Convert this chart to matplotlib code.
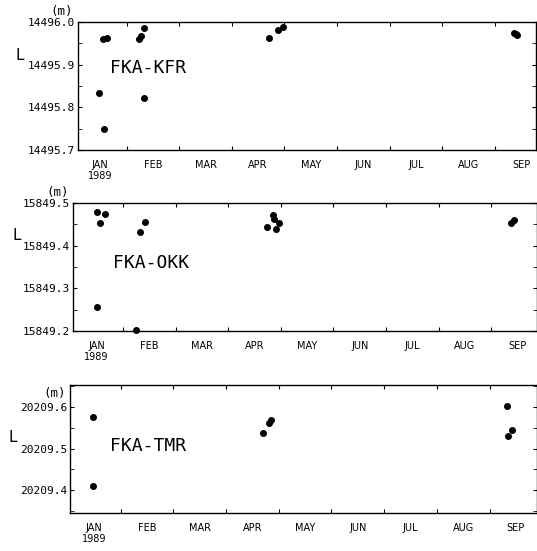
import matplotlib
matplotlib.use('Agg')
import matplotlib.pyplot as plt
import numpy as np

# x in month units: 0 = 1 Jan 1989, 1 = 1 Feb, ...
months = ['JAN\n1989', 'FEB', 'MAR', 'APR', 'MAY', 'JUN', 'JUL', 'AUG', 'SEP']

# FKA-KFR
kfr_t = [0.48, 0.57, 0.56, 0.62, 1.24, 1.27, 1.33, 1.33, 3.71, 3.88, 3.97, 8.37, 8.42, 8.40]
kfr_L = [14495.833, 14495.750, 14495.959, 14495.963, 14495.959, 14495.967, 14495.986,
         14495.822, 14495.963, 14495.981, 14495.989, 14495.975, 14495.970, 14495.972]

# FKA-OKK
okk_t = [0.51, 0.65, 0.57, 0.51, 1.33, 1.41, 1.24, 3.74, 3.85, 3.88, 3.97, 3.90, 8.37, 8.44]
okk_L = [15849.479, 15849.475, 15849.452, 15849.256, 15849.432, 15849.456, 15849.203,
         15849.444, 15849.471, 15849.463, 15849.452, 15849.438, 15849.452, 15849.461]

# FKA-TMR
tmr_t = [0.48, 0.48, 3.70, 3.81, 3.85, 8.33, 8.42, 8.35]
tmr_L = [20209.575, 20209.411, 20209.537, 20209.560, 20209.568, 20209.602, 20209.545, 20209.529]

W, H = 537, 551
fig = plt.figure(figsize=(W / 100, H / 100), dpi=100)

# рамки панелей в пикселях (left, right, top, bottom) и положения подписей
panels = [
    dict(px=(78, 536, 22, 150), xlim=(0.076, 8.78), ylim=(14495.7, 14496.0),
         yt=[14495.7, 14495.8, 14495.9, 14496.0], t=kfr_t, L=kfr_L, name='FKA-KFR',
         m=(62, 12), lab=(20, 55), nm=(110, 68)),
    dict(px=(73, 537, 203, 331), xlim=(0.05, 8.87), ylim=(15849.2, 15849.5),
         yt=[15849.2, 15849.3, 15849.4, 15849.5], t=okk_t, L=okk_L, name='FKA-OKK',
         m=(58, 193), lab=(17, 236), nm=(113, 263)),
    dict(px=(70, 537, 385, 513), xlim=(0.04, 8.9), ylim=(20209.346, 20209.652),
         yt=[20209.4, 20209.5, 20209.6], t=tmr_t, L=tmr_L, name='FKA-TMR',
         m=(55, 393), lab=(13, 438), nm=(110, 446)),
]

for p in panels:
    l, r, t, b = p['px']
    ax = fig.add_axes([l / W, 1 - b / H, (r - l) / W, (b - t) / H])
    ax.plot(p['t'], p['L'], 'o', color='black', ms=4.0, clip_on=False)
    ax.set_xlim(*p['xlim'])

    # границы месяцев - деления, названия месяцев - в середине
    ax.set_xticks(np.arange(1, 9))
    ax.set_xticklabels([])
    ax.set_xticks(np.arange(len(months)) + 0.5, minor=True)
    ax.set_xticklabels(months, minor=True, fontsize=7, family='DejaVu Sans')
    ax.tick_params(axis='x', which='major', direction='in', length=3, top=True, bottom=True)
    ax.tick_params(axis='x', which='minor', length=0, pad=7)

    ax.set_yticks(p['yt'])
    ax.set_yticklabels(['%.1f' % v for v in p['yt']], family='DejaVu Sans Mono', fontsize=8)
    yminor = np.arange(p['yt'][0] - 0.05, p['yt'][-1] + 0.06, 0.05)
    ax.set_yticks(yminor, minor=True)
    ax.set_ylim(*p['ylim'])
    ax.tick_params(axis='y', which='both', direction='in', length=3, left=True, right=True, pad=2)

    for s in ax.spines.values():
        s.set_linewidth(1.0)

    fig.text(p['m'][0] / W, 1 - p['m'][1] / H, '(m)', ha='center', va='center',
             fontsize=9, family='DejaVu Sans Mono')
    fig.text(p['lab'][0] / W, 1 - p['lab'][1] / H, 'L', ha='center', va='center',
             fontsize=11, family='DejaVu Sans')
    fig.text(p['nm'][0] / W, 1 - p['nm'][1] / H, p['name'], ha='left', va='center',
             fontsize=13, family='DejaVu Sans Mono')

fig.savefig('out.png', dpi=100)
